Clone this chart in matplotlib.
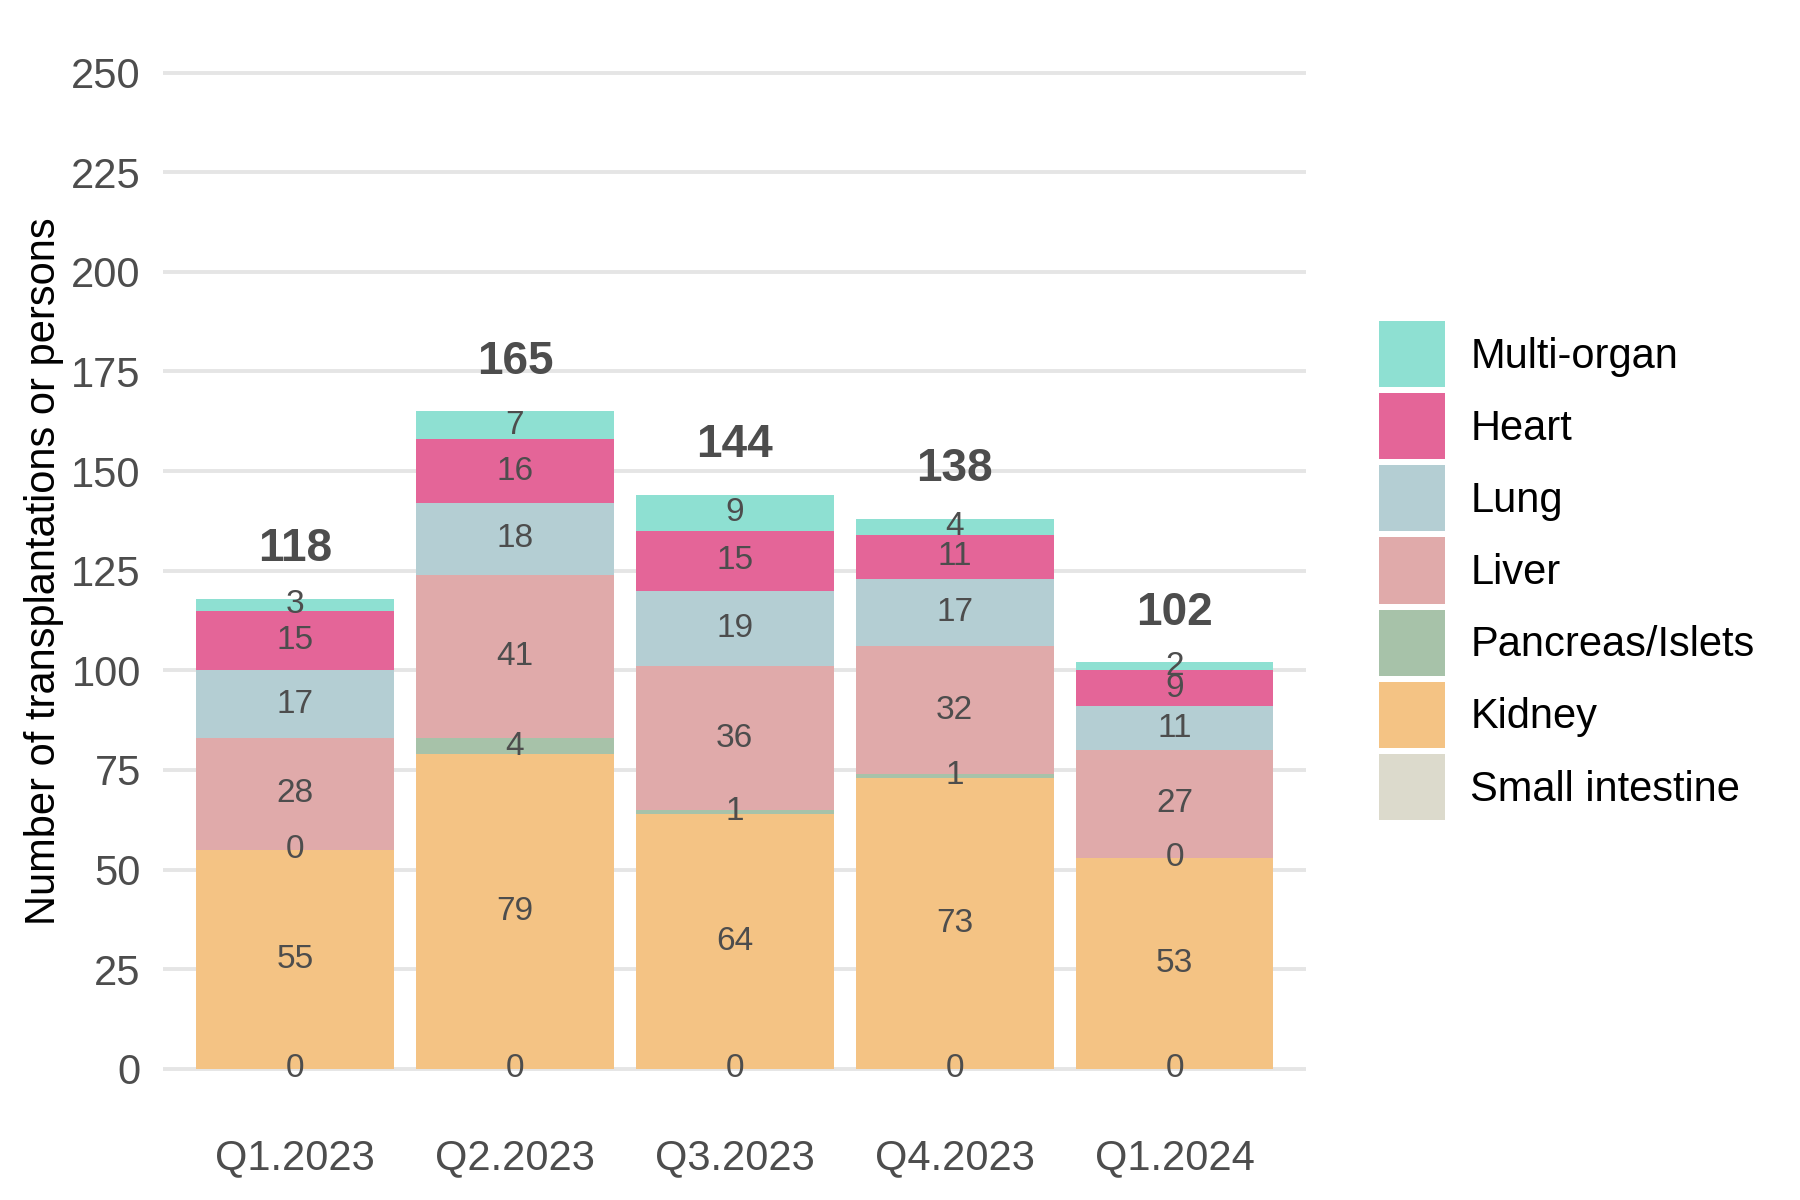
import matplotlib.pyplot as plt
from matplotlib.patches import Rectangle
from matplotlib.legend_handler import HandlerPatch
import numpy as np

# data
quarters = ['Q1.2023', 'Q2.2023', 'Q3.2023', 'Q4.2023', 'Q1.2024']
organs = ['Small intestine', 'Kidney', 'Pancreas/Islets', 'Liver', 'Lung', 'Heart', 'Multi-organ']
small_intestine = [0, 0, 0, 0, 0]
kidney = [55, 79, 64, 73, 53]
pancreas = [0, 4, 1, 1, 0]
liver = [28, 41, 36, 32, 27]
lung = [17, 18, 19, 17, 11]
heart = [15, 16, 15, 11, 9]
multi_organ = [3, 7, 9, 4, 2]

colors = ['#DCDACC', '#F4C384', '#A7C2A9', '#E0AAAA', '#B4CED3', '#E46598', '#8EE0D2']

plt.rcParams['font.family'] = ['Liberation Sans', 'DejaVu Sans']

series = [small_intestine, kidney, pancreas, liver, lung, heart, multi_organ]
x = np.arange(len(quarters))

fig = plt.figure(figsize=(9, 6), dpi=200)
ax = fig.add_axes([0.0906, 0.0678, 0.6352, 0.9132])

bottom = np.zeros(len(quarters))
handles = []
for name, vals, col in zip(organs, series, colors):
    vals = np.array(vals, dtype=float)
    b = ax.bar(x, vals, width=0.9, bottom=bottom, color=col, label=name, zorder=2)
    handles.append(b.patches[0])
    for xi, v, b0 in zip(x, vals, bottom):
        ax.text(xi, b0 + v / 2, f'{int(v)}', ha='center', va='center',
                fontsize=12, color='#4D4D4D', zorder=3)
    bottom = bottom + vals

# totals above bars
for xi, tot in zip(x, bottom):
    ax.text(xi, tot + 12.5, f'{int(tot)}', ha='center', va='center',
            fontsize=16.5, fontweight='bold', color='#4D4D4D', zorder=3)

ax.set_xlim(-0.6, 4.6)
ax.set_ylim(-12.5, 262.5)
ax.set_yticks(np.arange(0, 251, 25))
ax.set_xticks(x)
ax.set_xticklabels(quarters)
ax.tick_params(axis='both', length=0, labelsize=15, labelcolor='#4D4D4D')
ax.tick_params(axis='y', pad=8)
ax.tick_params(axis='x', pad=7)
ax.grid(axis='y', color='#E5E5E5', linewidth=1.4, zorder=0)
ax.set_axisbelow(True)
for s in ax.spines.values():
    s.set_visible(False)

ax.set_ylabel('Number of transplantations or persons', fontsize=15, color='black', labelpad=2.5)


# square legend keys, like ggplot
def square_key(legend, orig_handle, xdescent, ydescent, width, height, fontsize):
    h = 23.8
    return Rectangle((-xdescent, -ydescent + height / 2 - h / 2), width, h)


fig.legend(handles[::-1], organs[::-1], loc='center left',
           bbox_to_anchor=(0.766, 0.5246), bbox_transform=fig.transFigure,
           frameon=False, fontsize=15, handlelength=1.58, handleheight=1.58,
           labelspacing=0.46, handletextpad=0.62, borderpad=0, borderaxespad=0,
           handler_map={Rectangle: HandlerPatch(patch_func=square_key)})

plt.savefig('out.png', dpi=200)
